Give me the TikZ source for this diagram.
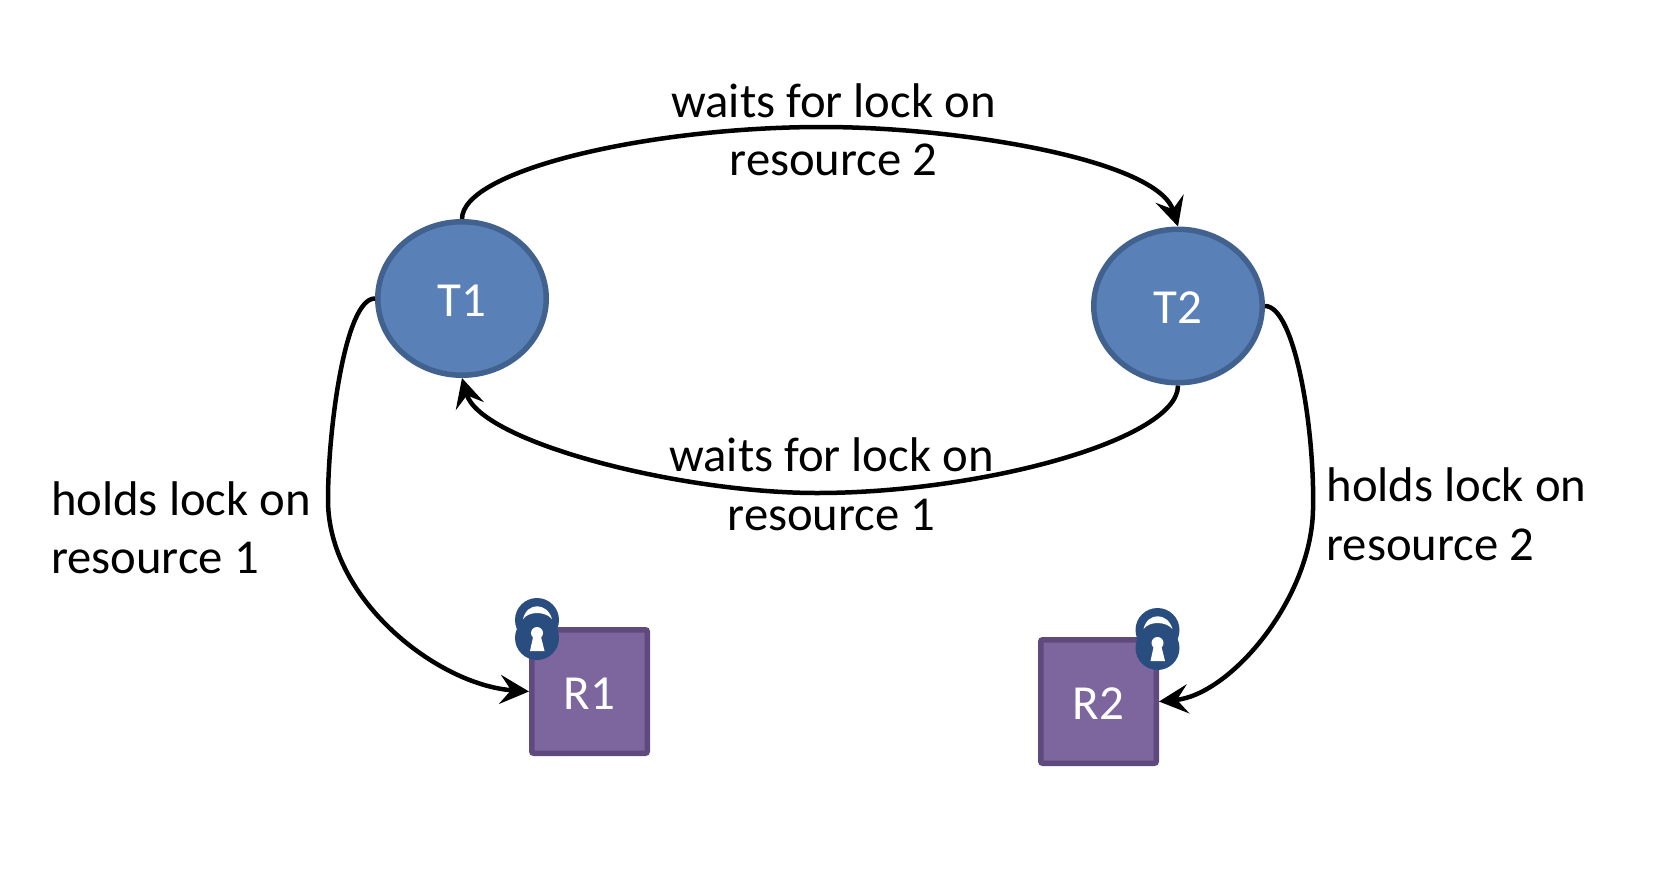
\documentclass[tikz,border=0pt]{standalone}
\usepackage{fontspec}
\setmainfont{Carlito}
\usetikzlibrary{arrows.meta,shapes.geometric}
\definecolor{tfill}{HTML}{5A80B8}
\definecolor{tline}{HTML}{41628F}
\definecolor{rfill}{HTML}{7D659E}
\definecolor{rline}{HTML}{5F4A7E}
\definecolor{lockblue}{HTML}{2A4D80}
\tikzset{
  task/.style={ellipse,draw=tline,fill=tfill,line width=5.5pt,minimum width=168.5pt,minimum height=153.5pt,inner sep=0pt,text=white,text height=35pt,text depth=0pt,font=\fontsize{49}{59}\selectfont},
  res/.style={rectangle,rounded corners=2pt,draw=rline,fill=rfill,line width=5.5pt,minimum width=115.5pt,minimum height=123.5pt,inner sep=0pt,text=white,text height=35pt,text depth=0pt,font=\fontsize{49}{59}\selectfont},
  lab/.style={inner sep=0pt,outer sep=0pt,font=\fontsize{48.7}{58.5}\selectfont},
  link/.style={draw=black,line width=4.5pt,-{Stealth[length=29pt,width=29pt,inset=11pt]}},
  padlock/.pic={
    \fill[lockblue] (0,22) circle[radius=22pt];
    \fill[lockblue] (0,40) circle[radius=22pt];
    \fill[white] (-14,21) .. controls (-10,4) and (10,4) .. (15,21) .. controls (8,13) and (-8,13) .. (-14,21) -- cycle;
    \fill[white] (0,35) circle[radius=6pt];
    \fill[white] (-3.5,37) -- (-7,53) -- (7.5,53) -- (3.5,37) -- cycle;
  }
}
\begin{document}
\begin{tikzpicture}[x=1pt,y=-1pt]
\useasboundingbox (0,0) rectangle (1678,886);
\node[task] (t1) at (462,298.5) {T1};
\node[task] (t2) at (1178,306) {T2};
\node[res] (r1) at (589.5,691.5) {R1};
\node[res] (r2) at (1098.5,701.5) {R2};
\pic at (537,598) {padlock};
\pic at (1157.5,608) {padlock};
\node[lab,align=center] (w2) at (833.5,130) {waits for lock on\\resource 2};
\node[lab,align=center] (w1) at (831.5,484.5) {waits for lock on\\resource 1};
\node[lab,align=left,anchor=west] (h1) at (51,528) {holds lock on\\resource 1};
\node[lab,align=left,anchor=west] (h2) at (1326.5,514.5) {holds lock on\\resource 2};
\draw[link] (t1.north) .. controls (462,170) and (650,127) .. (822,127) .. controls (960,127) and (1158,160) .. (t2.north);
\draw[link] (t2.south) .. controls (1178,440) and (980,493) .. (817,493) .. controls (680,493) and (480,442) .. (t1.south);
\draw[link] (t1.west) .. controls (345,298) and (328,430) .. (328,500) .. controls (328,600) and (438,685) .. (r1.west);
\draw[link] (t2.east) .. controls (1295,306) and (1315,430) .. (1313,510) .. controls (1311,600) and (1230,695) .. (r2.east);
\end{tikzpicture}
\end{document}
